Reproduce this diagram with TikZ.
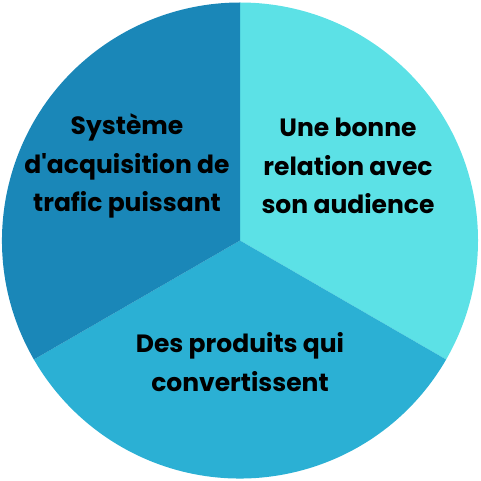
\documentclass[tikz,border=0pt]{standalone}
\usepackage{fontspec}
\setmainfont{Poppins}
\definecolor{cleft}{HTML}{1A87B8}
\definecolor{cright}{HTML}{5CE1E6}
\definecolor{cbottom}{HTML}{2BB0D4}
\begin{document}
\begin{tikzpicture}[x=1pt,y=-1pt,
  lbl/.style={align=center,font=\fontsize{25}{38.5}\selectfont\bfseries,text=black,inner sep=0pt}]
\useasboundingbox (0,0) rectangle (480,481);
\coordinate (c) at (240,240.5);
\fill[cright] (c) -- ++(0,-238) arc[start angle=-90,end angle=30,radius=238] -- cycle;
\fill[cbottom] (c) -- ++(30:238) arc[start angle=30,end angle=150,radius=238] -- cycle;
\fill[cleft] (c) -- ++(150:238) arc[start angle=150,end angle=270,radius=238] -- cycle;
\node[lbl] (t1) at (127,166) {Système\\d\textquotesingle acquisition de\\trafic puissant};
\node[lbl] (t2) at (348,166) {Une bonne\\relation avec\\son audience};
\node[lbl] (t3) at (240,362) {Des produits qui\\convertissent};
\end{tikzpicture}
\end{document}
